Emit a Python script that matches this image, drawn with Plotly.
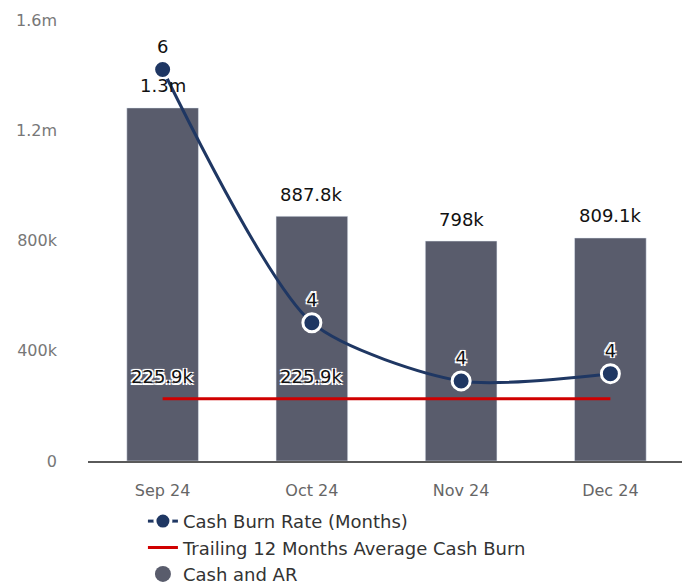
import plotly.graph_objects as go

months = ["Sep 24", "Oct 24", "Nov 24", "Dec 24"]
cash_ar = [1281000, 887800, 798000, 809100]
cash_ar_labels = ["1.3m", "887.8k", "798k", "809.1k"]
avg_burn = [225900, 225900, 225900, 225900]
avg_burn_labels = ["225.9k", "225.9k", "", ""]
burn_rate = [5.67, 3.93, 3.53, 3.58]
burn_rate_labels = ["6", "4", "4", "4"]
y_ticks = [0, 400000, 800000, 1200000, 1600000]
y_tick_labels = ["0", "400k", "800k", "1.2m", "1.6m"]

FONT = "DejaVu Sans"
NAVY = "#1f3763"
RED = "#d00000"
BAR = "#595c6c"
halo = ("-1.5px -1.5px 0 #fff, 1.5px -1.5px 0 #fff, -1.5px 1.5px 0 #fff, "
        "1.5px 1.5px 0 #fff, 0 0 3px #fff")

fig = go.Figure()
fig.add_trace(go.Bar(
    x=months, y=cash_ar, name="Cash and AR", marker_color=BAR,
    width=0.48, showlegend=False, hoverinfo="skip"))
fig.add_trace(go.Scatter(
    x=months, y=avg_burn, name="Trailing 12 Months Average Cash Burn",
    mode="lines", line=dict(color=RED, width=3),
    cliponaxis=False, legendrank=2))
fig.add_trace(go.Scatter(
    x=months, y=burn_rate, name="Cash Burn Rate (Months)", yaxis="y2",
    mode="lines+markers+text", line=dict(color=NAVY, width=3, shape="spline", smoothing=0.7),
    marker=dict(size=18, color=NAVY, line=dict(color="white", width=3)),
    text=burn_rate_labels, textposition="top center",
    textfont=dict(color="#111", size=18, family=FONT, shadow=halo),
    cliponaxis=False, legendrank=1))
fig.add_trace(go.Scatter(
    x=[None], y=[None], name="Cash and AR", mode="markers",
    marker=dict(size=18, color=BAR, symbol="circle"), legendrank=3))

annotations = []
for m, v, t in zip(months, cash_ar, cash_ar_labels):
    annotations.append(dict(x=m, y=v, xref="x", yref="y", text=t, showarrow=False,
                            yanchor="middle", yshift=22,
                            font=dict(color="#111", size=18, family=FONT)))
for m, v, t in zip(months, avg_burn, avg_burn_labels):
    if t:
        annotations.append(dict(x=m, y=v, xref="x", yref="y", text=t, showarrow=False,
                                yanchor="middle", yshift=22,
                                font=dict(color="#111", size=18, family=FONT, shadow=halo)))

# page body has an 8px default margin, so the figure is sized/offset to compensate
fig.update_layout(
    width=682, height=577,
    margin=dict(l=80, r=5, t=12, b=124, autoexpand=False),
    plot_bgcolor="white", paper_bgcolor="white",
    font=dict(family=FONT, size=16, color="#333"),
    xaxis=dict(showgrid=False, showline=True, linecolor="#5a5a5a", linewidth=2,
               ticks="outside", ticklen=0, ticklabelstandoff=14, automargin=False,
               tickfont=dict(color="#666", size=16)),
    yaxis=dict(range=[0, 1600000], tickvals=y_ticks, ticktext=y_tick_labels,
               showgrid=False, zeroline=False, showline=False, automargin=False,
               ticklabelstandoff=30, tickfont=dict(color="#777", size=16)),
    yaxis2=dict(range=[2.98, 6.01], overlaying="y", side="right", visible=False),
    legend=dict(orientation="v", x=0.092, xanchor="left", y=-0.095, yanchor="top",
                font=dict(size=18, color="#333"), tracegroupgap=0,
                bgcolor="rgba(0,0,0,0)"),
    annotations=annotations,
)
fig.write_html("out.html")
